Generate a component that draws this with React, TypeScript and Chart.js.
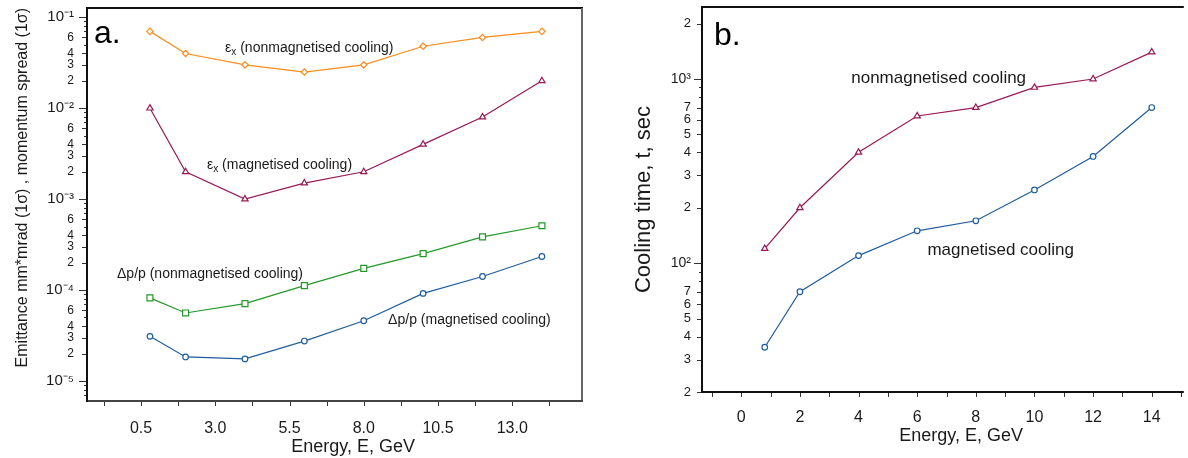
import React, { useEffect, useRef } from 'react';
import { Chart, registerables } from 'chart.js';

Chart.register(...registerables);

// ---------------- data ----------------
const energies = [0.8, 2, 4, 6, 8, 10, 12, 14];

// panel a
const emitNonMag = [0.07, 0.04, 0.03, 0.025, 0.03, 0.048, 0.06, 0.07];
const emitMag = [0.01, 0.002, 0.001, 0.0015, 0.002, 0.004, 0.008, 0.02];
const dppNonMag = [8.2e-5, 5.6e-5, 7.1e-5, 1.12e-4, 1.73e-4, 2.52e-4, 3.85e-4, 5.1e-4];
const dppMag = [3.1e-5, 1.84e-5, 1.75e-5, 2.75e-5, 4.6e-5, 9.2e-5, 1.41e-4, 2.34e-4];

// panel b
const coolNonMag = [120, 200, 400, 630, 700, 900, 1000, 1400];
const coolMag = [35, 70, 110, 150, 170, 250, 380, 700];

// tick values / labels
const leftXMajor = [0.5, 3.0, 5.5, 8.0, 10.5, 13.0];
const leftXLabels = ['0.5', '3.0', '5.5', '8.0', '10.5', '13.0'];
const leftXMinor = [-0.75, 1.75, 4.25, 6.75, 9.25, 11.75, 14.25];

const rightXMajor = [0, 2, 4, 6, 8, 10, 12, 14];
const rightXLabels = ['0', '2', '4', '6', '8', '10', '12', '14'];
const rightXMinor = [-1, 1, 3, 5, 7, 9, 11, 13, 15];

const leftYDecades = [1e-5, 1e-4, 1e-3, 1e-2, 1e-1];
const leftYDecadeLabels = ['10⁻⁵', '10⁻⁴', '10⁻³', '10⁻²', '10⁻¹'];
const leftYLabeledMinor = [2, 3, 4, 6];
const leftYPlainMinor = [5, 7, 8, 9];

const rightYDecades = [10, 100, 1000];
const rightYDecadeLabels = ['10¹', '10²', '10³'];
const rightYLabeledMinor = [2, 3, 4, 5, 6, 7];
const rightYPlainMinor = [8, 9];

// ---------------- style ----------------
const FONT = "'Liberation Sans', Arial, Helvetica, sans-serif";
const ORANGE = '#fb8c1e';
const PURPLE = '#981a56';
const GREEN = '#23982a';
const BLUE = '#1f5d9e';
const INK = '#1a1a1a';

type Note = { x: number; y: number; main: string; sub?: string; rest?: string; size: number };

const leftNotes: Note[] = [
  { x: 3.33, y: 0.0416, main: 'ε', sub: 'x', rest: ' (nonmagnetised cooling)', size: 14 },
  { x: 2.72, y: 0.00215, main: 'ε', sub: 'x', rest: ' (magnetised cooling)', size: 14 },
  { x: -0.31, y: 1.36e-4, main: 'Δp/p (nonmagnetised cooling)', size: 14 },
  { x: 8.82, y: 4.27e-5, main: 'Δp/p (magnetised cooling)', size: 14 },
];
const rightNotes: Note[] = [
  { x: 3.75, y: 955, main: 'nonmagnetised cooling', size: 17 },
  { x: 6.35, y: 110.5, main: 'magnetised cooling', size: 17 },
];

const near = (a: number, b: number) => Math.abs(a - b) <= 1e-9 * Math.max(1, Math.abs(b));

function logTicks(decades: number[], labeled: number[], plain: number[], min: number, max: number) {
  const out: number[] = [];
  decades.forEach((d) => {
    out.push(d);
    [...labeled, ...plain].forEach((m) => out.push(d * m));
  });
  decades.forEach((d) => {
    [...labeled, ...plain].forEach((m) => out.push((d / 10) * m));
  });
  const uniq = Array.from(new Set(out.map((v) => +v.toPrecision(6))));
  return uniq.filter((v) => v >= min * 0.9999 && v <= max * 1.0001).sort((a, b) => a - b);
}

function logLabel(v: number, decades: number[], decadeLabels: string[], labeled: number[]) {
  const di = decades.findIndex((d) => near(v, d));
  if (di >= 0) return decadeLabels[di];
  const e = Math.floor(Math.log10(v) + 1e-9);
  const m = Math.round(v / Math.pow(10, e));
  if (labeled.includes(m)) return String(m);
  return '';
}

function isDecade(v: number) {
  const l = Math.log10(v);
  return Math.abs(l - Math.round(l)) < 1e-6;
}

type DecorCfg = {
  panel: string;
  panelDx: number;
  panelDy: number;
  notes: Note[];
  xTitle: string;
  xTitleAt: number;
  xTitleBaseline: number;
  sideColors: { top: string; left: string; bottom: string; right: string | null };
};

function makeDecor(cfg: DecorCfg) {
  return {
    id: 'decor',
    afterDraw(chart: any) {
      const ctx: CanvasRenderingContext2D = chart.ctx;
      const { left, right, top, bottom } = chart.chartArea;
      const xs = chart.scales.x;
      const ys = chart.scales.y;
      ctx.save();

      // ticks
      ctx.lineWidth = 1;
      ctx.strokeStyle = '#333';
      xs.ticks.forEach((t: any) => {
        const px = Math.round(xs.getPixelForValue(t.value)) + 0.5;
        ctx.beginPath();
        ctx.moveTo(px, bottom);
        ctx.lineTo(px, bottom + 5);
        ctx.stroke();
      });
      ys.ticks.forEach((t: any) => {
        const py = Math.round(ys.getPixelForValue(t.value)) + 0.5;
        const len = isDecade(t.value) ? 8 : t.label ? 5 : 3;
        ctx.beginPath();
        ctx.moveTo(left - len, py);
        ctx.lineTo(left, py);
        ctx.stroke();
      });

      // frame
      ctx.lineWidth = 2;
      const seg = (x1: number, y1: number, x2: number, y2: number, c: string | null) => {
        if (!c) return;
        ctx.strokeStyle = c;
        ctx.beginPath();
        ctx.moveTo(x1, y1);
        ctx.lineTo(x2, y2);
        ctx.stroke();
      };
      seg(left - 1, top, right + 1, top, cfg.sideColors.top);
      seg(right, top, right, bottom + 1, cfg.sideColors.right);
      seg(left - 1, bottom, right + 1, bottom, cfg.sideColors.bottom);
      seg(left, top - 1, left, bottom + 1, cfg.sideColors.left);

      // panel letter
      ctx.fillStyle = '#000';
      ctx.textBaseline = 'alphabetic';
      ctx.textAlign = 'left';
      ctx.font = `32px ${FONT}`;
      ctx.fillText(cfg.panel, left + cfg.panelDx, top + cfg.panelDy);

      // notes
      ctx.fillStyle = INK;
      cfg.notes.forEach((n) => {
        let x = xs.getPixelForValue(n.x);
        const y = ys.getPixelForValue(n.y);
        ctx.font = `${n.size}px ${FONT}`;
        ctx.fillText(n.main, x, y);
        x += ctx.measureText(n.main).width;
        if (n.sub) {
          ctx.font = `${Math.round(n.size * 0.72)}px ${FONT}`;
          ctx.fillText(n.sub, x, y + 3);
          x += ctx.measureText(n.sub).width;
        }
        if (n.rest) {
          ctx.font = `${n.size}px ${FONT}`;
          ctx.fillText(n.rest, x, y);
        }
      });

      // x title
      ctx.font = `18px ${FONT}`;
      ctx.textAlign = 'center';
      ctx.fillStyle = INK;
      ctx.fillText(cfg.xTitle, xs.getPixelForValue(cfg.xTitleAt), cfg.xTitleBaseline);
      ctx.restore();
    },
  };
}

function series(ys: number[], color: string, style: string, radius: number) {
  return {
    data: energies.map((e, i) => ({ x: e, y: ys[i] })),
    borderColor: color,
    borderWidth: 1.2,
    pointStyle: style,
    pointRadius: radius,
    pointBorderColor: color,
    pointBackgroundColor: '#ffffff',
    pointBorderWidth: 1.2,
    tension: 0,
    fill: false,
  };
}

function leftConfig(): any {
  const xMin = -1.32;
  const xMax = 15.35;
  const yMin = 6.03e-6;
  const yMax = 0.1265;
  return {
    type: 'line',
    data: {
      datasets: [
        series(emitNonMag, ORANGE, 'rectRot', 3.2),
        series(emitMag, PURPLE, 'triangle', 3.6),
        series(dppNonMag, GREEN, 'rect', 4.2),
        series(dppMag, BLUE, 'circle', 2.8),
      ],
    },
    options: {
      responsive: false,
      animation: false,
      devicePixelRatio: 1,
      layout: { padding: { top: 8, right: 8, left: 0, bottom: 0 } },
      plugins: { legend: { display: false }, tooltip: { enabled: false } },
      scales: {
        x: {
          type: 'linear',
          min: xMin,
          max: xMax,
          grid: { display: false, drawTicks: false },
          border: { display: false },
          afterBuildTicks: (s: any) => {
            s.ticks = [...leftXMajor, ...leftXMinor].sort((a, b) => a - b).map((v) => ({ value: v }));
          },
          afterFit: (s: any) => {
            s.height = 57;
            s.paddingLeft = 0;
            s.paddingRight = 0;
          },
          ticks: {
            autoSkip: false,
            maxRotation: 0,
            minRotation: 0,
            padding: 18,
            color: INK,
            font: { family: FONT, size: 16 },
            callback: (v: number) => {
              const i = leftXMajor.findIndex((m) => near(v, m));
              return i >= 0 ? leftXLabels[i] : '';
            },
          },
        },
        y: {
          type: 'logarithmic',
          min: yMin,
          max: yMax,
          grid: { display: false, drawTicks: false },
          border: { display: false },
          afterBuildTicks: (s: any) => {
            s.ticks = logTicks(leftYDecades, leftYLabeledMinor, leftYPlainMinor, yMin, yMax).map((v) => ({ value: v }));
          },
          afterFit: (s: any) => {
            s.width = 87;
            s.paddingTop = 0;
            s.paddingBottom = 0;
          },
          ticks: {
            autoSkip: false,
            padding: 13,
            color: INK,
            font: (c: any) => ({ family: FONT, size: c.tick && isDecade(c.tick.value) ? 15 : 12 }),
            callback: (v: number) => logLabel(v, leftYDecades, leftYDecadeLabels, leftYLabeledMinor),
          },
          title: {
            display: true,
            text: 'Emittance mm*mrad (1σ) , momentum spread (1σ)',
            align: 'end',
            color: INK,
            padding: { top: 13, bottom: 0 },
            font: { family: FONT, size: 16 },
          },
        },
      },
    },
    plugins: [
      makeDecor({
        panel: 'a.',
        panelDx: 7,
        panelDy: 35,
        notes: leftNotes,
        xTitle: 'Energy, E, GeV',
        xTitleAt: 7.64,
        xTitleBaseline: 452,
        sideColors: { top: '#111', left: '#111', bottom: '#444', right: '#666' },
      }),
    ],
  };
}

function rightConfig(): any {
  const xMin = -1.34;
  const xMax = 15.06;
  const yMin = 20;
  const yMax = 2460;
  return {
    type: 'line',
    data: {
      datasets: [series(coolNonMag, PURPLE, 'triangle', 3.6), series(coolMag, BLUE, 'circle', 2.8)],
    },
    options: {
      responsive: false,
      animation: false,
      devicePixelRatio: 1,
      layout: { padding: { top: 7, right: 0, left: 0, bottom: 0 } },
      plugins: { legend: { display: false }, tooltip: { enabled: false } },
      scales: {
        x: {
          type: 'linear',
          min: xMin,
          max: xMax,
          grid: { display: false, drawTicks: false },
          border: { display: false },
          afterBuildTicks: (s: any) => {
            s.ticks = [...rightXMajor, ...rightXMinor].sort((a, b) => a - b).map((v) => ({ value: v }));
          },
          afterFit: (s: any) => {
            s.height = 66;
            s.paddingLeft = 0;
            s.paddingRight = 0;
          },
          ticks: {
            autoSkip: false,
            maxRotation: 0,
            minRotation: 0,
            padding: 16,
            color: INK,
            font: { family: FONT, size: 16 },
            callback: (v: number) => {
              const i = rightXMajor.findIndex((m) => near(v, m));
              return i >= 0 ? rightXLabels[i] : '';
            },
          },
        },
        y: {
          type: 'logarithmic',
          min: yMin,
          max: yMax,
          grid: { display: false, drawTicks: false },
          border: { display: false },
          afterBuildTicks: (s: any) => {
            s.ticks = logTicks(rightYDecades, rightYLabeledMinor, rightYPlainMinor, yMin, yMax).map((v) => ({ value: v }));
          },
          afterFit: (s: any) => {
            s.width = 104;
            s.paddingTop = 0;
            s.paddingBottom = 0;
          },
          ticks: {
            autoSkip: false,
            padding: 11,
            color: INK,
            font: (c: any) => ({ family: FONT, size: c.tick && isDecade(c.tick.value) ? 14 : 13 }),
            callback: (v: number) => logLabel(v, rightYDecades, rightYDecadeLabels, rightYLabeledMinor),
          },
          title: {
            display: true,
            text: 'Cooling time, t, sec',
            align: 'center',
            color: INK,
            padding: { top: 33, bottom: 0 },
            font: { family: FONT, size: 22 },
          },
        },
      },
    },
    plugins: [
      makeDecor({
        panel: 'b.',
        panelDx: 12,
        panelDy: 38,
        notes: rightNotes,
        xTitle: 'Energy, E, GeV',
        xTitleAt: 7.5,
        xTitleBaseline: 441,
        sideColors: { top: '#111', left: '#111', bottom: '#111', right: null },
      }),
    ],
  };
}

function ChartCanvas({ make, left, width }: { make: () => any; left: number; width: number }) {
  const ref = useRef<HTMLCanvasElement>(null);
  useEffect(() => {
    if (!ref.current) return;
    const chart = new Chart(ref.current, make());
    return () => chart.destroy();
  }, []);
  return (
    <canvas
      ref={ref}
      width={width}
      height={458}
      style={{ position: 'absolute', left, top: 0, width, height: 458, display: 'block' }}
    />
  );
}

export default function App() {
  return (
    <div style={{ position: 'absolute', left: 0, top: 0, width: 1188, height: 458, background: '#fff', overflow: 'hidden' }}>
      <ChartCanvas make={leftConfig} left={0} width={590} />
      <ChartCanvas make={rightConfig} left={598} width={590} />
    </div>
  );
}
